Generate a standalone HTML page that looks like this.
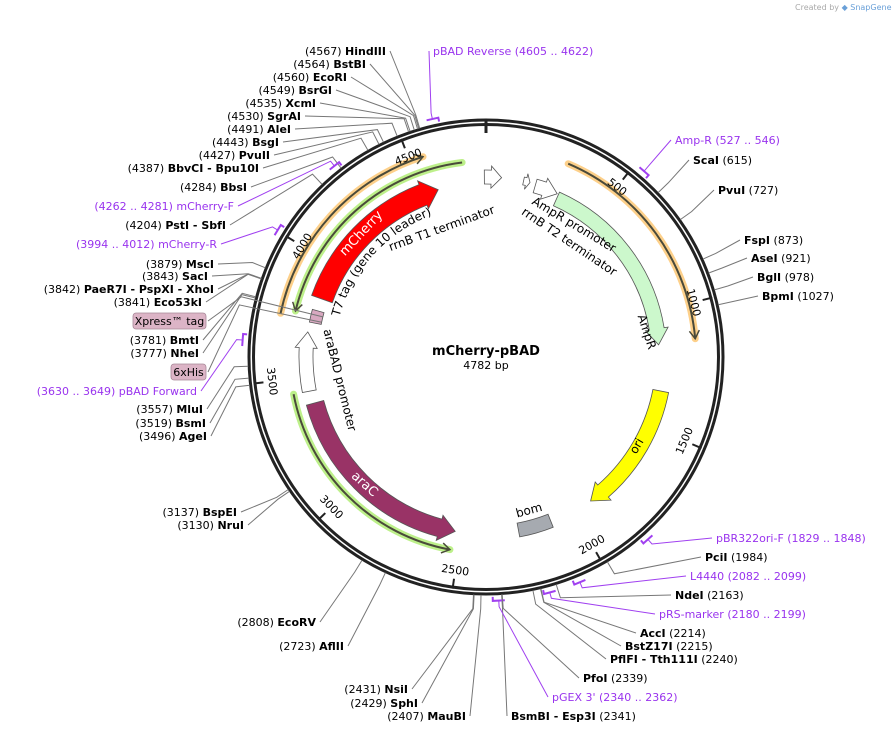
<!DOCTYPE html>
<html><head><meta charset="utf-8"><style>
html,body{margin:0;padding:0;background:#fff;}
svg{display:block;font-family:"DejaVu Sans","Liberation Sans",sans-serif;}
</style></head><body>
<svg id="map" width="893" height="733" viewBox="0 0 893 733" xmlns="http://www.w3.org/2000/svg">
<defs><path id="t7path" d="M0,0"/></defs>
<text x="795" y="10" font-size="8" fill="#aaa">Created by <tspan fill="#6aa0d8">◆ SnapGene</tspan></text>
<g id="features"></g>
<g id="ring">
<circle cx="486" cy="357" r="237" fill="none" stroke="#222" stroke-width="3"/>
<circle cx="486" cy="357" r="232.5" fill="none" stroke="#222" stroke-width="3"/>
</g>
<g id="ticks"></g>
<g id="leaders"></g>
<g id="labels"></g>
<text x="486" y="355" text-anchor="middle" font-size="13" font-weight="bold">mCherry-pBAD</text>
<text x="486" y="369" text-anchor="middle" font-size="11">4782 bp</text>
</svg>
<script>
const TOTAL = 4782;
const tickValues = [500,1000,1500,2000,2500,3000,3500,4000,4500];
// features: name, start bp, end bp, direction
const featNames = ["mCherry","araC","araBAD-promoter","ori","AmpR","bom","rrnB-T1-arrow","AmpR-promoter-arrow","rrnB-T2-arrow","T7-tag"];
const featStart = [3845,2524,3441,1342,319,2105,4775,213,160,3735];
const featEnd   = [4570,3387,3693,1913,1142,2250,4848,313,188,3790];
const featDir   = [1,-1,1,1,1,0,1,1,1,0];
// thin (primer-binding / ORF) arcs
const arcNames = ["orange-arc-left","green-arc-left","green-arc-bottom","orange-arc-right"];
const arcStart = [3746,3767,2532,306];
const arcEnd   = [4550,4689,3441,1129];
const arcDir   = [1,-1,-1,1];
// enzyme/primer sites
const siteNames = ["HindIII","BstBI","EcoRI","BsrGI","XcmI","SgrAI","AleI","BsgI","PvuII","BbvCI - Bpu10I","BbsI","mCherry-F","PstI - SbfI","mCherry-R","MscI","SacI","PaeR7I - PspXI - XhoI","Eco53kI","BmtI","NheI","pBAD Forward","MluI","BsmI","AgeI","BspEI","NruI","EcoRV","AflII","NsiI","SphI","MauBI","BsmBI - Esp3I","pGEX 3'","PfoI","PflFI - Tth111I","BstZ17I","AccI","pRS-marker","NdeI","L4440","PciI","pBR322ori-F","pBAD Reverse","Amp-R","ScaI","PvuI","FspI","AseI","BglI","BpmI"];
const sitePos = ["4567","4564","4560","4549","4535","4530","4491","4443","4427","4387","4284","4262 .. 4281","4204","3994 .. 4012","3879","3843","3842","3841","3781","3777","3630 .. 3649","3557","3519","3496","3137","3130","2808","2723","2431","2429","2407","2341","2340 .. 2362","2339","2240","2215","2214","2180 .. 2199","2163","2082 .. 2099","1984","1829 .. 1848","4605 .. 4622","527 .. 546","615","727","873","921","978","1027"];
// label layout (x anchor, baseline y, side)
const labX = [386,366,347,332,316,301,291,279,270,259,247,234,226,217,214,208,214,202,199,199,197,203,206,207,237,244,316,344,408,418,466,511,552,583,610,625,640,659,675,690,705,716,433,675,693,718,744,751,757,762];
const labY = [55,68,81,94,107,120,133,146,159,172,191,210,229,248,268,280,293,306,344,357,395,413,427,440,516,529,626,650,693,707,720,720,701,682,663,650,637,618,599,580,561,542,55,144,164,194,244,262,281,300];
const labSide = [-1,-1,-1,-1,-1,-1,-1,-1,-1,-1,-1,-1,-1,-1,-1,-1,-1,-1,-1,-1,-1,-1,-1,-1,-1,-1,-1,-1,-1,-1,-1,1,1,1,1,1,1,1,1,1,1,1,1,1,1,1,1,1,1,1];

const NS="http://www.w3.org/2000/svg", CX=486, CY=357;
function pt(bp,r){const a=bp/TOTAL*2*Math.PI;return [CX+r*Math.sin(a),CY-r*Math.cos(a)];}
function mk(tag,attrs,parent){const e=document.createElementNS(NS,tag);for(const k in attrs)e.setAttribute(k,attrs[k]);parent.appendChild(e);return e;}
function f(p){return p[0].toFixed(1)+","+p[1].toFixed(1);}

const gF=document.getElementById('features');
const featR=[174,177,180,178,173,176,180,178,180,174];
const featW=[22,18,14,16,15,14,14,14,8,12];
const featFill=["#ff0000","#993366","#ffffff","#ffff00","#ccf8cc","#a6aab0","#ffffff","#ffffff","#ffffff","#d8a8c0"];
function arrowPath(s,e,dir,r,w){
  const hp=Math.min(16,(e-s)*2*Math.PI*r/TOTAL*0.6), hb=hp/(2*Math.PI*r/TOTAL);
  const ro=r+w/2, ri=r-w/2, ext=4;
  if(dir>0){const h=e-hb;
    return "M"+f(pt(s,ro))+" A"+ro+","+ro+" 0 0 1 "+f(pt(h,ro))+" L"+f(pt(h,ro+ext))+" L"+f(pt(e,r))+" L"+f(pt(h,ri-ext))+" L"+f(pt(h,ri))+" A"+ri+","+ri+" 0 0 0 "+f(pt(s,ri))+" Z";}
  if(dir<0){const h=s+hb;
    return "M"+f(pt(e,ro))+" A"+ro+","+ro+" 0 0 0 "+f(pt(h,ro))+" L"+f(pt(h,ro+ext))+" L"+f(pt(s,r))+" L"+f(pt(h,ri-ext))+" L"+f(pt(h,ri))+" A"+ri+","+ri+" 0 0 1 "+f(pt(e,ri))+" Z";}
  return "M"+f(pt(s,ro))+" A"+ro+","+ro+" 0 0 1 "+f(pt(e,ro))+" L"+f(pt(e,ri))+" A"+ri+","+ri+" 0 0 0 "+f(pt(s,ri))+" Z";
}
for(let i=0;i<featNames.length;i++){
  const p=mk('path',{d:arrowPath(featStart[i],featEnd[i],featDir[i],featR[i],featW[i]),fill:featFill[i],stroke:"#555","stroke-width":0.8},gF);
  
  
}
// thin arcs
const arcR=[210,196,196,210];
const arcGlow=["#fdd08a","#bdf08a","#bdf08a","#fdd08a"];
for(let i=0;i<arcNames.length;i++){
  const s=arcStart[i],e=arcEnd[i],r=arcR[i];
  const g=mk('g',{},gF);
  
  
  const d="M"+f(pt(s,r))+" A"+r+","+r+" 0 0 1 "+f(pt(e,r));
  mk('path',{d:d,fill:"none",stroke:arcGlow[i],"stroke-width":7,"stroke-linecap":"round"},g);
  mk('path',{d:d,fill:"none",stroke:"#4a4a3a","stroke-width":2},g);
  const hb=8/(2*Math.PI*r/TOTAL);
  const tip=arcDir[i]>0?e:s, base=arcDir[i]>0?e-hb:s+hb;
  mk('path',{d:"M"+f(pt(base,r+5))+" L"+f(pt(tip,r))+" L"+f(pt(base,r-5)),fill:"none",stroke:"#4a4a3a","stroke-width":1.5},g);
}
// ticks
const gT=document.getElementById('ticks');
const t0=pt(0,224),t1=pt(0,238);
mk('line',{x1:t0[0],y1:t0[1],x2:t1[0],y2:t1[1],stroke:"#222","stroke-width":3,},gT);
for(const v of tickValues){
  const a=pt(v,224),b=pt(v,234);
  const l=mk('line',{x1:a[0],y1:a[1],x2:b[0],y2:b[1],stroke:"#222","stroke-width":2},gT);
  
  
  const deg=v/TOTAL*360; const rot=(deg>90&&deg<270)?deg-180:deg;
  const q=pt(v,215);
  const t=mk('text',{x:q[0],y:q[1]+4,"font-size":11,"text-anchor":"middle",transform:"rotate("+rot.toFixed(1)+" "+q[0].toFixed(1)+" "+q[1].toFixed(1)+")"},gT);
  t.textContent=v;
  
  
}
// site labels
const gL=document.getElementById('labels'), gD=document.getElementById('leaders');
for(let i=0;i<siteNames.length;i++){
  const purple=sitePos[i].indexOf('..')>=0;
  const col=purple?"#9933ee":"#000";
  const parts=sitePos[i].split(' .. ').map(Number);
  const bp=parts.length>1?(parts[0]+parts[1])/2:parts[0];
  const side=labSide[i];
  const t=mk('text',{x:labX[i],y:labY[i],"font-size":11,"text-anchor":side<0?"end":"start",fill:col},gL);
  
  
  if(purple){
    if(side<0) t.textContent="("+sitePos[i]+")  "+siteNames[i];
    else t.textContent=siteNames[i]+"    ("+sitePos[i]+")";
  } else {
    const a=mk('tspan',{},t), b=mk('tspan',{"font-weight":"bold"},t);
    if(side<0){a.textContent="("+sitePos[i]+")  ";b.textContent=siteNames[i];}
    else {b.textContent=siteNames[i];const c=mk('tspan',{},t);c.textContent="  ("+sitePos[i]+")";}
  }
  const ax=side<0?labX[i]+4:labX[i]-4, ay=labY[i]-4;
  const c=pt(bp,purple?244:238), el=pt(bp,purple?250:252);
  const ln=mk('polyline',{points:ax+","+ay+" "+f(el)+" "+f(c),fill:"none",stroke:purple?"#a040f0":"#777","stroke-width":1},gD);
  
  
  if(purple){
    const hb=6/(2*Math.PI*244/TOTAL);
    const m=mk('path',{d:"M"+f(pt(bp-hb,244))+" L"+f(pt(bp+hb,244))+" L"+f(pt(bp+hb,240)),fill:"none",stroke:"#a040f0","stroke-width":2},gD);
    
    
  }
}
// feature annotation boxes (Xpress tag, 6xHis)
function box(x,y,w,txt,name,bp){
  const g=mk('g',{},gL);
  
  
  mk('rect',{x:x,y:y,width:w,height:16,rx:3,fill:"#dcb4c6",stroke:"#a88898","stroke-width":0.8},g);
  const t=mk('text',{x:x+w/2,y:y+12,"font-size":11,"text-anchor":"middle"},g);t.textContent=txt;
  const c=pt(bp,168);
  mk('polyline',{points:(x+w+2)+","+(y+8)+" "+f(pt(bp,252))+" "+f(c),fill:"none",stroke:"#777","stroke-width":1},gD);
}
box(133,313,73,"Xpress™ tag","xpress-tag-label",3770);
box(171,364,35,"6xHis","6xhis-label",3745);
// feature text labels
function lab(x,y,rot,txt,name,col,size){
  const t=mk('text',{x:x,y:y,"font-size":size||12,"text-anchor":"middle",fill:col||"#000",transform:"rotate("+rot+" "+x+" "+y+")"},gL);
  t.textContent=txt;
  
  
}
// curved T7 tag label
const tp=document.getElementById('t7path');
tp.setAttribute('d',"M"+f(pt(3790,152))+" A152,152 0 0 1 "+f(pt(4700,152)));
const t7=mk('text',{"font-size":12,fill:"#000"},gL);


const t7p=mk('textPath',{href:"#t7path"},t7);
t7p.textContent="T7 tag (gene 10 leader)";
lab(364,236,-47,"mCherry","mcherry-label","#fff",13);
lab(443,232,-20,"rrnB T1 terminator","rrnb-t1-label","#000",12);
lab(572,228,31,"AmpR promoter","ampr-promoter-label","#000",12);
lab(567,245,34,"rrnB T2 terminator","rrnb-t2-label","#000",12);
lab(643,333,72,"AmpR","ampr-label","#000",12);
lab(336,381,76,"araBAD promoter","arabad-label","#000",12);
lab(362,487,42,"araC","arac-label","#fff",13);
lab(640,448,-60,"ori","ori-label","#000",12);
lab(530,514,-15,"bom","bom-label","#000",12);
</script>
</body></html>
